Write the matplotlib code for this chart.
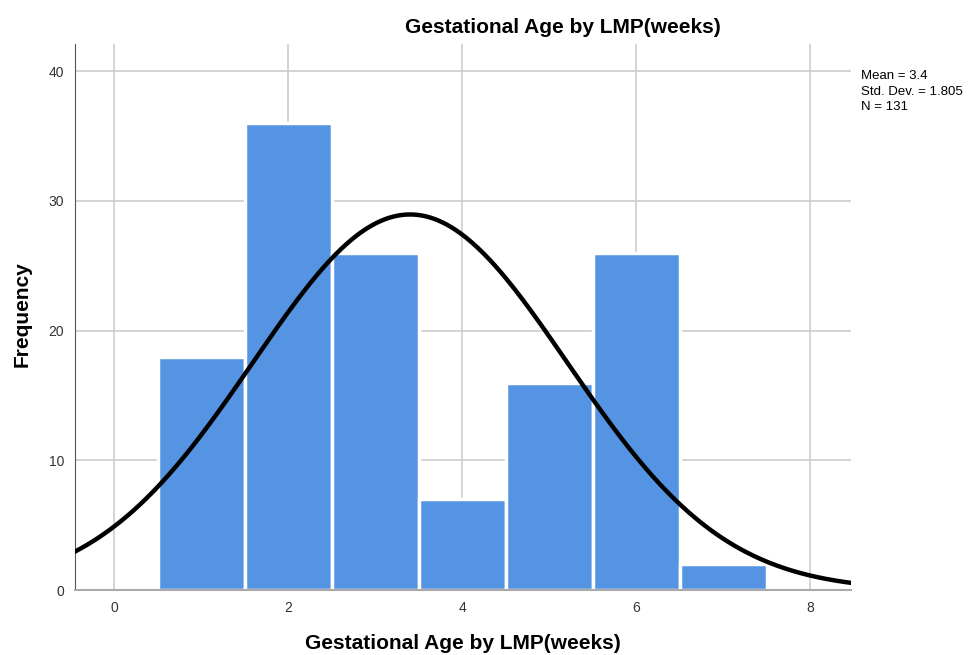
import numpy as np
import matplotlib.pyplot as plt

plt.rcParams['font.family'] = ['Liberation Sans', 'DejaVu Sans']

# histogram of gestational age (weeks)
weeks = [1, 2, 3, 4, 5, 6, 7]
counts = [18, 36, 26, 7, 16, 26, 2]
mean = 3.4
std = 1.805
n = 131

fig = plt.figure(figsize=(9.75, 6.55), dpi=100)
ax = fig.add_axes([0.077, 0.099, 0.796, 0.834])

ax.bar(weeks, counts, width=1.0, color='#5594E3', edgecolor='white', linewidth=2.5, zorder=2)

# normal curve scaled to the counts
x = np.linspace(-0.45, 8.47, 400)
y = n * 1.0 / (std * np.sqrt(2 * np.pi)) * np.exp(-0.5 * ((x - mean) / std) ** 2)
ax.plot(x, y, color='black', linewidth=3.2, zorder=3)

ax.set_xlim(-0.45, 8.47)
ax.set_ylim(0, 42.1)
ax.set_xticks([0, 2, 4, 6, 8])
ax.set_yticks([0, 10, 20, 30, 40])
ax.grid(True, color='#cccccc', linewidth=1.2, zorder=0)
ax.set_axisbelow(True)
ax.tick_params(length=0, labelsize=10, colors='#333333', pad=8)
ax.spines['top'].set_visible(False)
ax.spines['right'].set_visible(False)
ax.spines['left'].set_color('#555555')
ax.spines['bottom'].set_color('#aaaaaa')
ax.spines['bottom'].set_linewidth(1.5)

fig.text(0.475, 0.018, 'Gestational Age by LMP(weeks)', fontsize=15, fontweight='bold',
         ha='center', va='center')
fig.text(0.023, 0.52, 'Frequency', fontsize=15, fontweight='bold',
         ha='center', va='center', rotation=90)
fig.text(0.577, 0.958, 'Gestational Age by LMP(weeks)', fontsize=15, fontweight='bold',
         ha='center', va='center')
fig.text(0.883, 0.893, 'Mean = 3.4\nStd. Dev. = 1.805\nN = 131', fontsize=9.5,
         ha='left', va='top', linespacing=1.4)

plt.savefig('out.png')
